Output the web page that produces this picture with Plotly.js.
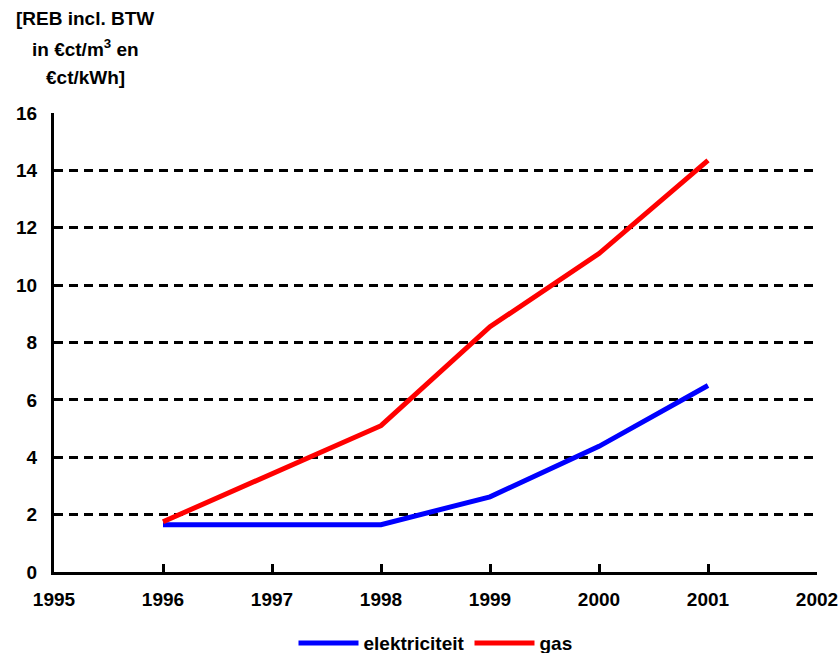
<!DOCTYPE html>
<html>
<head>
<meta charset="utf-8">
<script src="https://cdn.plot.ly/plotly-3.0.1.min.js"></script>
<style>html,body{margin:0;padding:0;background:#fff;}#chart{width:839px;height:653px;}</style>
</head>
<body>
<div id="chart"></div>
<script>
var years = [1996, 1997, 1998, 1999, 2000, 2001];
var elektriciteit = [1.65, 1.65, 1.65, 2.62, 4.38, 6.5];
var gas = [1.75, 3.42, 5.1, 8.55, 11.1, 14.35];
var seriesNames = ["elektriciteit", "gas"];
var xTickLabels = ["1995","1996","1997","1998","1999","2000","2001","2002"];
var yTitleLines = ["[REB incl. BTW", "in €ct/m<sup>3</sup> en", "€ct/kWh]"];

var fnt = {family: "Liberation Sans, Arial, sans-serif", size: 19, color: "#000", weight: "bold"};

var traces = [
  {x: years, y: elektriciteit, name: seriesNames[0], mode: "lines", line: {color: "#0000ff", width: 5}},
  {x: years, y: gas, name: seriesNames[1], mode: "lines", line: {color: "#ff0000", width: 5}}
];

var titleY = [0.0 + (572 - 18) / 459, (572 - 48) / 459, (572 - 78) / 459];
var annotations = yTitleLines.map(function (t, i) {
  return {xref: "paper", yref: "paper", x: (85 - 54) / 763, y: titleY[i], xanchor: "center", yanchor: "middle",
          showarrow: false, text: t, font: fnt};
});

var layout = {
  width: 839, height: 653,
  margin: {l: 54, r: 22, t: 113, b: 81, autoexpand: false},
  paper_bgcolor: "#fff", plot_bgcolor: "#fff",
  font: fnt,
  showlegend: true,
  legend: {orientation: "h", x: 0.5, xanchor: "center", y: -0.155, yanchor: "middle", font: fnt, tracegroupgap: 0, itemwidth: 60},
  xaxis: {
    range: [1995, 2002], tickvals: [1995, 1996, 1997, 1998, 1999, 2000, 2001, 2002],
    ticktext: xTickLabels, ticklabeloverflow: "allow",
    showgrid: false, zeroline: false, showline: true, linecolor: "#000", linewidth: 3,
    ticks: "inside", ticklen: 8, tickwidth: 3, tickcolor: "#000", tickfont: fnt, ticklabelstandoff: 8,
    automargin: false, fixedrange: true
  },
  yaxis: {
    range: [0, 16], tickvals: [0,2,4,6,8,10,12,14,16],
    showgrid: true, gridcolor: "#000", gridwidth: 3, griddash: "9px,6px",
    zeroline: false, showline: true, linecolor: "#000", linewidth: 3,
    ticks: "", tickfont: fnt, ticklabelstandoff: 10, automargin: false, fixedrange: true
  },
  annotations: annotations
};

Plotly.newPlot("chart", traces, layout, {displayModeBar: false, staticPlot: true});
</script>
</body>
</html>
